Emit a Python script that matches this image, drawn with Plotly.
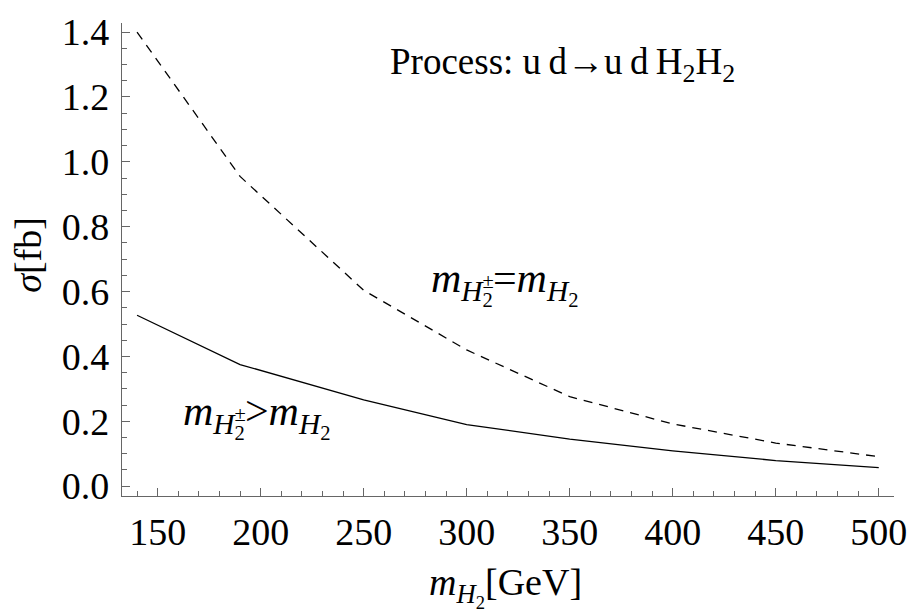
import plotly.graph_objects as go

# Data
mass = [140, 190, 250, 300, 350, 400, 450, 500]
sigma_equal = [1.40, 0.955, 0.604, 0.42, 0.276, 0.192, 0.133, 0.091]
sigma_greater = [0.527, 0.375, 0.266, 0.19, 0.145, 0.109, 0.079, 0.057]

x_ticks = [150, 200, 250, 300, 350, 400, 450, 500]
y_ticks = [0.0, 0.2, 0.4, 0.6, 0.8, 1.0, 1.2, 1.4]

FONT = "Liberation Serif"
AX = "#666666"
HID = '<span style="color:rgba(0,0,0,0)">'

fig = go.Figure()
fig.add_trace(go.Scatter(x=mass, y=sigma_equal, mode="lines",
                         line=dict(color="black", width=1.3, dash="9px,7px"),
                         showlegend=False))
fig.add_trace(go.Scatter(x=mass, y=sigma_greater, mode="lines",
                         line=dict(color="black", width=1.3),
                         showlegend=False))

axis_common = dict(showgrid=False, zeroline=False, showline=True, linecolor=AX,
                   linewidth=1.3, ticks="inside", ticklen=8, tickcolor=AX,
                   tickwidth=1, mirror=False,
                   tickfont=dict(family=FONT, size=38, color="black"))

fig.update_xaxes(range=[132.7, 507.4], tickvals=x_ticks,
                 ticktext=[str(v) for v in x_ticks],
                 minor=dict(dtick=10, tick0=0, ticks="inside", ticklen=5, tickcolor=AX),
                 ticklabelstandoff=2, **axis_common)
fig.update_yaxes(range=[-0.0303, 1.428], tickvals=y_ticks,
                 ticktext=["%.1f" % v for v in y_ticks],
                 minor=dict(dtick=0.05, tick0=0, ticks="inside", ticklen=5, tickcolor=AX),
                 ticklabelstandoff=4, **axis_common)

ann_font = dict(family=FONT, size=37, color="black")
lab_font = dict(family=FONT, size=42, color="black")

fig.add_annotation(x=261.6, y=1.30, xref="x", yref="y", xanchor="left", yanchor="middle",
                   text="Process: u\u2009d\u2192u\u2009d\u2009H<sub>2</sub>H<sub>2</sub>",
                   showarrow=False, font=ann_font)


def label(op):
    return ("<i>m</i><sub><i>H</i><sub>2</sub></sub>" + op +
            "<i>m</i><sub><i>H</i><sub>2</sub></sub>")


def overlay(op):
    return (HID + "<i>m</i></span><sub>" + HID + "<i>H</i></span><sup>\u00b1</sup></sub>" +
            HID + op + "<i>m</i></span><sub>" + HID + "<i>H</i></span>" +
            "<sub>" + HID + "2</span></sub></sub>")


for op, xl, yb in [("=", 281.7, 0.535), (">", 161.3, 0.125)]:
    fig.add_annotation(x=xl, y=yb, xref="x", yref="y", xanchor="left", yanchor="bottom",
                       text=label(op), showarrow=False, font=lab_font)
    fig.add_annotation(x=xl, y=yb, xref="x", yref="y", xanchor="left", yanchor="bottom",
                       text=overlay(op), showarrow=False, font=lab_font)

# axis titles
fig.add_annotation(x=(508 - 122) / 778, y=(496 - 589) / 481, xref="paper", yref="paper",
                   xanchor="center", yanchor="middle",
                   text="<i>m</i><sub><i>H</i><sub>2</sub></sub>[GeV]",
                   showarrow=False, font=dict(family=FONT, size=38, color="black"))
fig.add_annotation(x=(27 - 122) / 778, y=(496 - 251) / 481, xref="paper", yref="paper",
                   xanchor="center", yanchor="middle", textangle=-90,
                   text="<i>\u03c3</i>[fb]",
                   showarrow=False, font=dict(family=FONT, size=38, color="black"))

fig.update_layout(width=919, height=612, autosize=False,
                  font=dict(family=FONT, color="black"),
                  margin=dict(l=122, r=19, t=15, b=116),
                  paper_bgcolor="white", plot_bgcolor="white")

fig.write_html("out.html")
